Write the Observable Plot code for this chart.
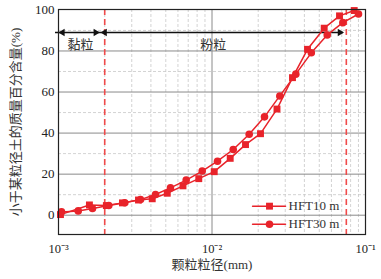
<!DOCTYPE html>
<html>
<head>
<meta charset="utf-8">
<script src="https://cdn.jsdelivr.net/npm/d3@7"></script>
<script src="https://cdn.jsdelivr.net/npm/@observablehq/plot@0.6"></script>
<style>
  html, body { margin: 0; padding: 0; background: #fff; }
</style>
</head>
<body>
<div id="chart"></div>
<script>
// ---- data ----
const sizes10 = [0.00103, 0.00159, 0.00205, 0.00261, 0.00332, 0.00408, 0.00511, 0.00647, 0.00820, 0.01034, 0.01314, 0.01653, 0.02070, 0.02651, 0.03345, 0.04190, 0.05382, 0.06772, 0.08441];
const pass10  = [0.3, 5.0, 4.7, 6.0, 7.4, 8.0, 10.7, 14.3, 17.8, 21.2, 27.7, 34.4, 39.7, 51.7, 67.0, 80.8, 91.1, 97.1, 99.7];
const sizes30 = [0.001046, 0.001344, 0.001665, 0.002126, 0.002704, 0.003422, 0.004284, 0.005364, 0.006789, 0.008634, 0.01086, 0.013745, 0.017474, 0.021979, 0.027652, 0.035154, 0.04436, 0.05631, 0.071153, 0.09003];
const pass30  = [1.6, 2.1, 3.3, 4.7, 6.1, 7.6, 10.1, 13.3, 17.1, 21.5, 26.3, 32.0, 39.4, 47.9, 58.1, 68.7, 79.1, 87.8, 93.8, 98.0];

const seriesNames = ["HFT10 m", "HFT30 m"];
const xMajorTicks = [0.001, 0.01, 0.1];
const xTickLabels = ["10\u207B\u00B3", "10\u207B\u00B2", "10\u207B\u00B9"];
const xMinorTicks = [0.002,0.003,0.004,0.005,0.006,0.007,0.008,0.009,0.02,0.03,0.04,0.05,0.06,0.07,0.08,0.09];
const yMajorTicks = [0, 20, 40, 60, 80, 100];
const yMinorTicks = [10, 30, 50, 70, 90];
const boundaries = [0.002, 0.075];     // clay/silt, silt/sand
const zoneLabels = ["黏粒", "粉粒"];
const zoneLabelX = [0.00139, 0.0102];
const arrowY = 89;
const zoneLabelY = 82.8;
const xLabel = "颗粒粒径(mm)";
const yLabel = "小于某粒径土的质量百分含量(%)";

// legend placement (data coords)
const legendX = [0.01837, 0.03013];
const legendMarkX = 0.02369;
const legendTextX = 0.0315;
const legendY = [4.4, -4.4];

// ---- build ----
const red = "#e8232a";
const d10 = sizes10.map((x, i) => ({x, y: pass10[i]}));
const d30 = sizes30.map((x, i) => ({x, y: pass30[i]}));
const legendLines = legendY.flatMap((y, i) => legendX.map(x => ({x, y, s: seriesNames[i]})));

const chart = Plot.plot({
  width: 381,
  height: 279,
  marginLeft: 58,
  marginRight: 16,
  marginTop: 9,
  marginBottom: 45,
  style: {fontFamily: "'Liberation Serif', 'Noto Sans CJK SC', serif", fontSize: "13px", color: "#222", background: "#fff"},
  x: {type: "log", domain: [0.001, 0.1]},
  y: {domain: [-9.4, 100.2]},
  marks: [
    Plot.ruleX(xMinorTicks, {stroke: "#c8c8c8", strokeDasharray: "3,2", strokeWidth: 0.8}),
    Plot.ruleY(yMinorTicks, {stroke: "#c8c8c8", strokeDasharray: "3,2", strokeWidth: 0.8}),
    Plot.ruleX([0.01], {stroke: "#8a8a8a", strokeWidth: 1}),
    Plot.ruleY(yMajorTicks.filter(d => d < 100), {stroke: "#8a8a8a", strokeWidth: 1}),
    Plot.ruleX(boundaries, {stroke: "#f04a4a", strokeWidth: 1.6, strokeDasharray: "6,4"}),
    // zone arrows
    Plot.ruleY([arrowY], {x1: 0.001, x2: boundaries[1], stroke: "#111", strokeWidth: 1.5, dx: -3}),
    Plot.dot([0.001], {x: d => d, y: arrowY, symbol: "triangle", r: 2.7, fill: "#111", rotate: -90, dx: 4}),
    Plot.dot([boundaries[0]], {x: d => d, y: arrowY, symbol: "triangle", r: 2.7, fill: "#111", rotate: 90, dx: -9}),
    Plot.dot([boundaries[0]], {x: d => d, y: arrowY, symbol: "triangle", r: 2.7, fill: "#111", rotate: -90, dx: 0}),
    Plot.dot([boundaries[1]], {x: d => d, y: arrowY, symbol: "triangle", r: 2.7, fill: "#111", rotate: 90, dx: -6.5}),
    Plot.text(zoneLabels, {x: (d, i) => zoneLabelX[i], y: zoneLabelY, text: d => d, fill: "#333", fontSize: 13}),
    // data series
    Plot.line(d10, {x: "x", y: "y", stroke: red, strokeWidth: 1.5}),
    Plot.dot(d10, {x: "x", y: "y", symbol: "square", r: 3.9, fill: red}),
    Plot.line(d30, {x: "x", y: "y", stroke: red, strokeWidth: 1.5}),
    Plot.dot(d30, {x: "x", y: "y", symbol: "circle", r: 3.8, fill: red}),
    // legend
    Plot.line(legendLines, {x: "x", y: "y", z: "s", stroke: red, strokeWidth: 1.5}),
    Plot.dot([seriesNames[0]], {x: legendMarkX, y: legendY[0], symbol: "square", r: 3.9, fill: red}),
    Plot.dot([seriesNames[1]], {x: legendMarkX, y: legendY[1], symbol: "circle", r: 3.8, fill: red}),
    Plot.text(seriesNames, {x: legendTextX, y: (d, i) => legendY[i], text: d => d, textAnchor: "start", fill: "#333", fontSize: 13}),
    // axes
    Plot.axisX(xMajorTicks, {tickSize: 0, tickPadding: 10, tickFormat: (d) => xTickLabels[xMajorTicks.indexOf(d)], fontSize: 12.5, label: null}),
    Plot.axisY(yMajorTicks, {tickSize: 0, tickPadding: 4, fontSize: 13, label: null}),
    Plot.text([xLabel], {frameAnchor: "bottom", dy: 34, text: d => d, fontSize: 13, fill: "#333", textAnchor: "middle"}),
    Plot.text([yLabel], {frameAnchor: "left", dx: -43, rotate: -90, text: d => d, fontSize: 13, fill: "#333", textAnchor: "middle"}),
    Plot.frame({stroke: "#222", strokeWidth: 1.2})
  ]
});
document.getElementById("chart").appendChild(chart);
</script>
</body>
</html>
